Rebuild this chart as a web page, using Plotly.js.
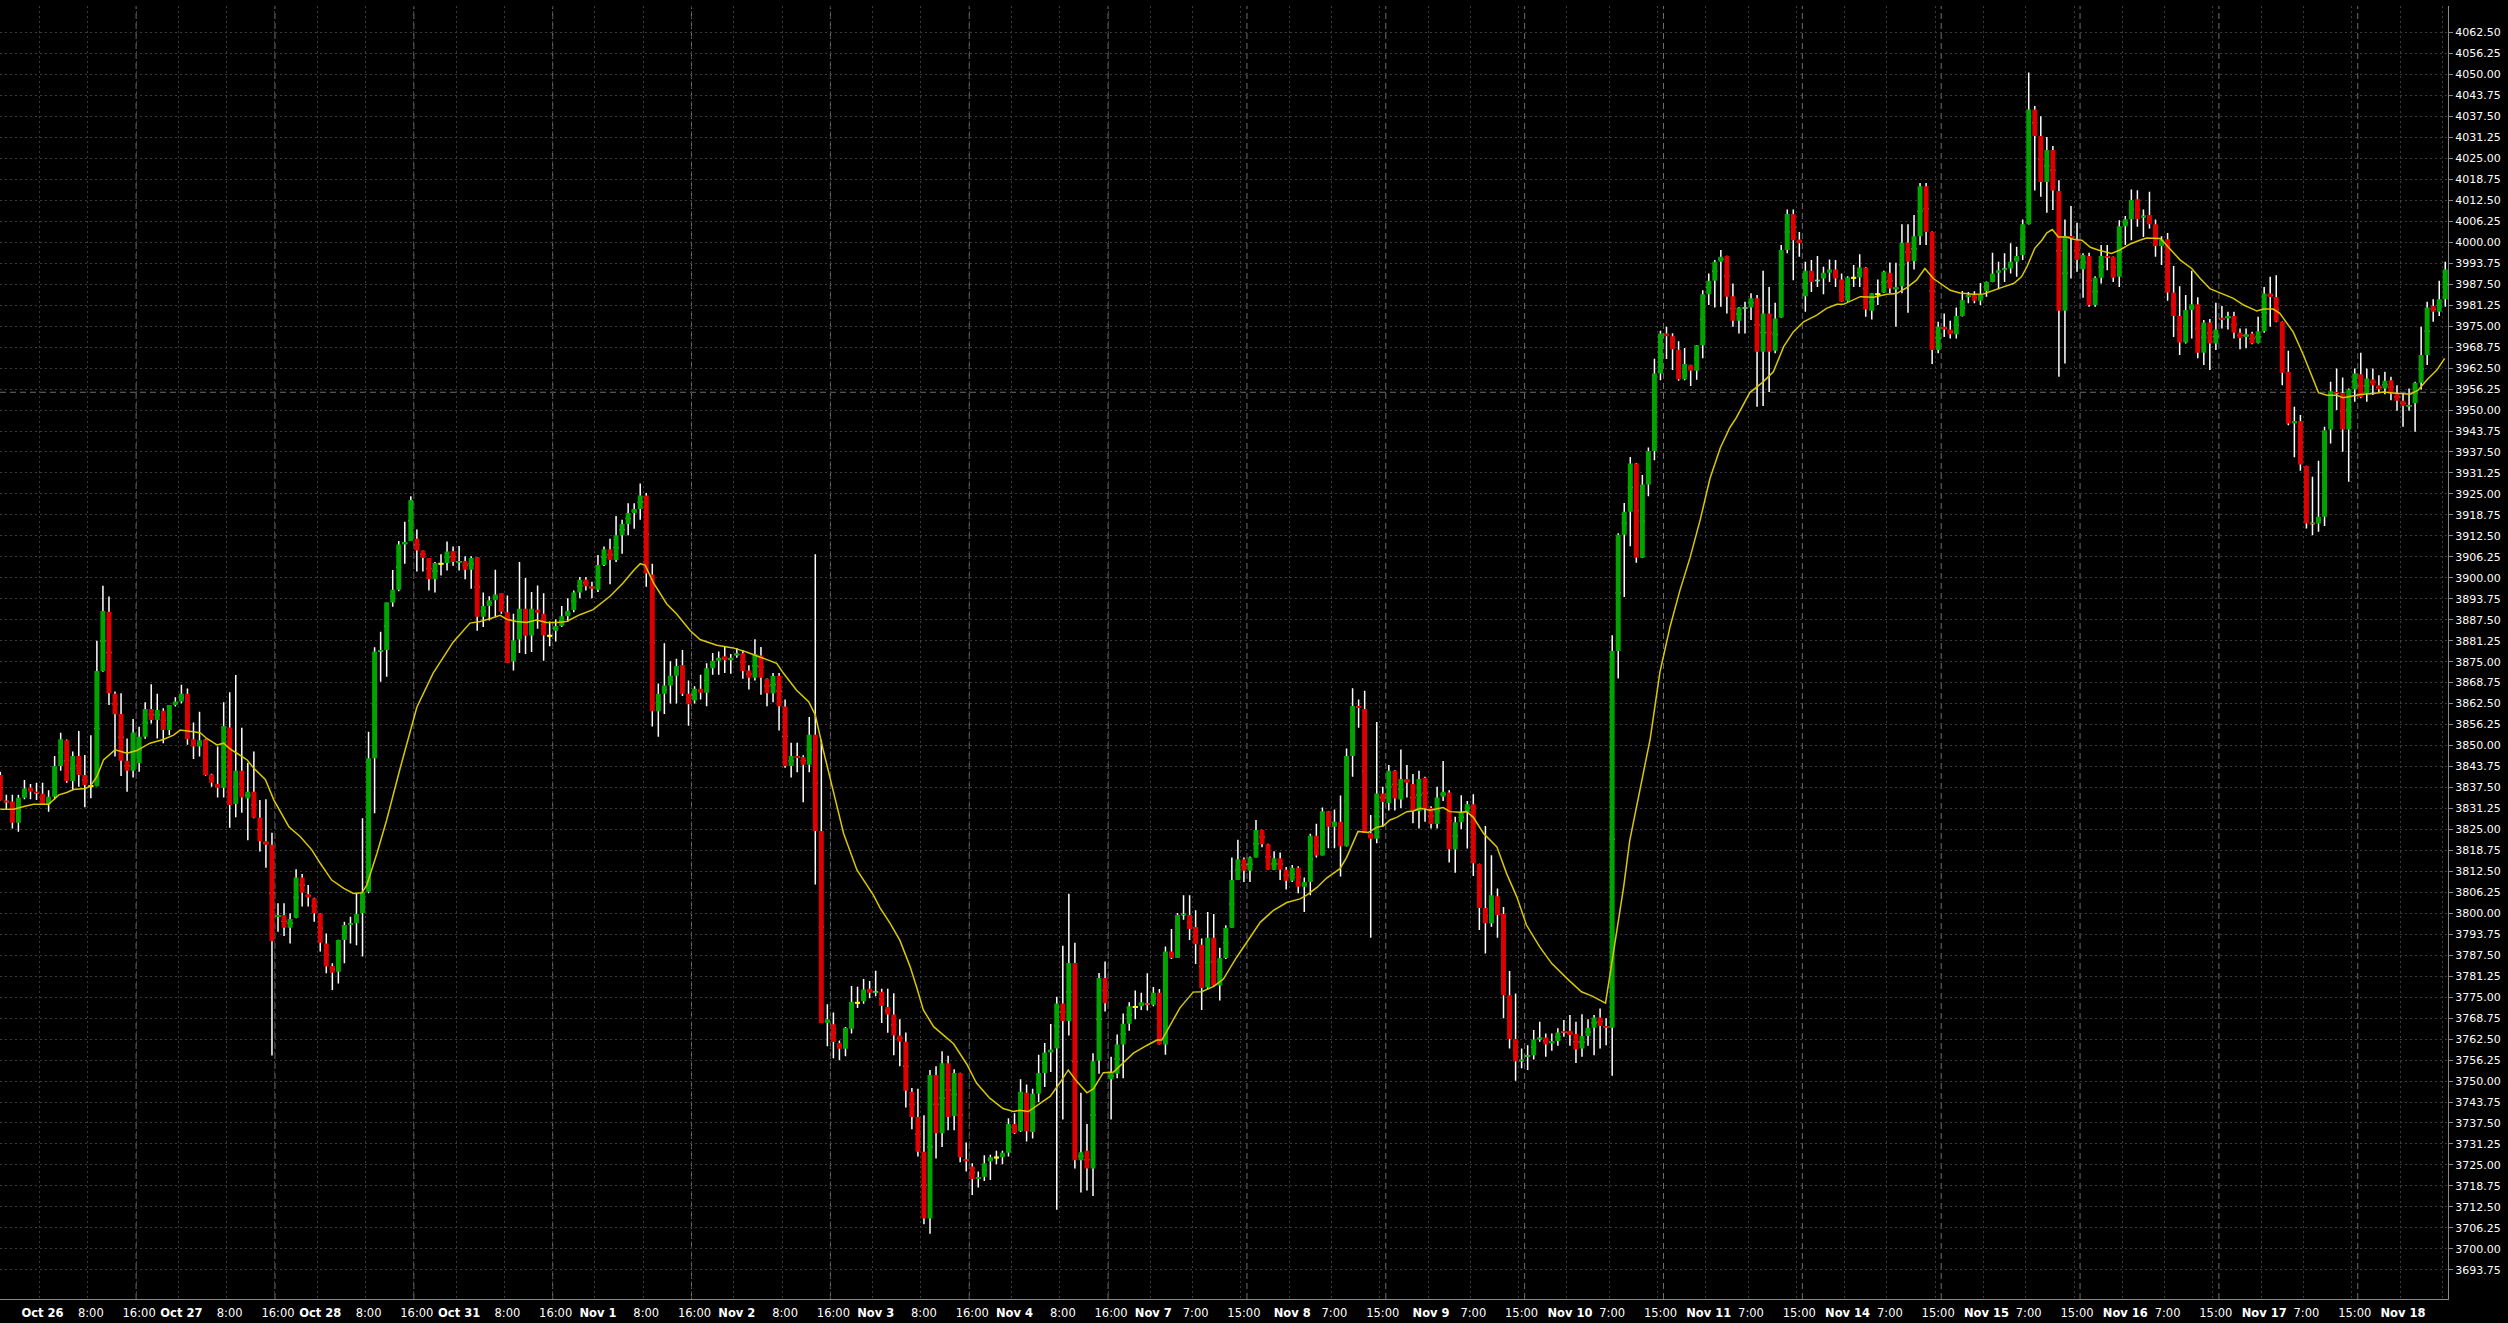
<!DOCTYPE html>
<html>
<head>
<meta charset="utf-8">
<script src="https://cdn.plot.ly/plotly-3.0.1.min.js"></script>
<style>
html,body{margin:0;padding:0;background:#000;}
#chart{width:2508px;height:1323px;}
</style>
</head>
<body>
<div id="chart"></div>
<script>
// Hourly candles, index 0 = first bar on the chart
const opens = [3841.2,3833.6,3833.3,3827.0,3834.4,3837.5,3836.2,3835.6,3832.5,3834.7,3843.9,3851.6,3839.4,3846.9,3841.2,3837.9,3837.9,3872.2,3889.9,3865.4,3859.4,3845.5,3842.5,3844.7,3852.6,3860.9,3857.6,3860.4,3854.6,3862.1,3863.1,3865.4,3851.9,3849.7,3851.8,3841.4,3838.5,3837.4,3855.4,3832.6,3842.5,3834.2,3836.2,3828.5,3821.5,3820.4,3798.9,3799.5,3795.7,3798.7,3810.7,3805.7,3804.5,3800.0,3791.0,3784.3,3782.6,3792.0,3796.5,3797.0,3800.1,3806.4,3846.2,3878.0,3878.5,3892.6,3896.4,3909.9,3911.0,3911.6,3908.1,3905.9,3899.6,3904.2,3904.4,3908.0,3904.5,3905.0,3902.4,3906.1,3888.4,3891.6,3893.3,3895.4,3889.7,3875.1,3881.6,3890.8,3882.8,3890.5,3889.3,3882.7,3884.2,3885.6,3888.5,3890.4,3895.6,3899.5,3897.5,3896.4,3903.8,3908.5,3905.3,3912.7,3916.0,3919.3,3920.5,3924.5,3901.0,3860.2,3865.4,3867.9,3870.8,3873.9,3865.4,3863.4,3866.9,3865.7,3873.0,3875.3,3876.6,3875.4,3876.8,3877.5,3872.4,3870.2,3876.8,3869.9,3865.6,3870.8,3861.6,3843.9,3846.9,3846.6,3844.3,3853.2,3824.5,3767.3,3766.9,3761.3,3759.6,3765.6,3773.3,3773.8,3777.5,3776.3,3776.6,3772.1,3769.8,3763.6,3761.7,3746.8,3739.3,3728.9,3709.0,3751.8,3734.4,3755.3,3739.6,3752.4,3726.7,3724.5,3720.8,3721.5,3726.0,3727.2,3727.3,3728.6,3737.2,3735.0,3746.5,3734.8,3746.2,3752.4,3758.5,3759.7,3773.1,3767.9,3785.2,3726.4,3729.2,3723.9,3756.1,3780.7,3750.5,3752.2,3760.9,3767.1,3772.1,3772.3,3773.2,3772.7,3776.3,3760.9,3788.6,3786.7,3799.5,3799.5,3795.9,3790.6,3777.9,3792.7,3778.5,3786.7,3795.7,3809.9,3816.1,3812.7,3816.6,3824.8,3820.6,3813.0,3816.4,3813.0,3809.7,3813.6,3807.9,3809.3,3823.1,3817.2,3830.4,3825.8,3827.3,3820.0,3846.9,3861.8,3860.9,3823.9,3822.2,3835.7,3832.9,3842.5,3833.9,3840.0,3838.5,3830.5,3840.4,3831.4,3826.6,3834.7,3836.0,3819.0,3827.1,3830.1,3832.5,3814.7,3801.6,3797.0,3805.1,3799.8,3775.6,3762.5,3755.9,3757.2,3757.7,3762.4,3763.0,3761.2,3761.9,3764.9,3765.0,3764.0,3759.7,3763.4,3765.9,3768.9,3766.4,3765.9,3878.2,3912.8,3919.7,3934.1,3906.0,3927.8,3937.8,3960.9,3972.8,3972.0,3968.0,3959.2,3963.4,3961.7,3969.3,3984.5,3988.5,3994.2,3995.9,3983.9,3976.6,3980.3,3980.6,3983.3,3967.4,3978.8,3967.7,3977.6,3997.7,4008.4,4000.8,3983.9,3991.5,3988.5,3989.2,3990.9,3991.9,3988.9,3982.6,3989.4,3989.5,3992.5,3979.6,3984.5,3985.0,3990.9,3985.9,3986.9,3999.9,3994.4,4001.8,4016.7,4003.1,3967.9,3974.8,3974.0,3972.6,3978.0,3983.6,3984.3,3982.6,3985.5,3988.2,3990.9,3991.7,3992.2,3994.2,3996.2,4005.4,4039.6,4031.7,4018.0,4027.5,4015.3,3979.6,4001.9,4000.6,3992.0,3995.9,3981.3,3989.4,3995.9,3995.7,3989.7,4004.8,4006.9,4012.8,4007.4,4008.1,4005.4,3998.9,4000.9,3985.0,3978.0,3970.1,3979.8,3981.5,3967.1,3976.1,3969.8,3977.5,3977.3,3978.0,3973.0,3971.8,3972.8,3970.0,3973.5,3984.7,3983.7,3976.3,3961.4,3946.0,3946.7,3933.3,3916.0,3916.2,3918.2,3944.2,3955.4,3955.1,3944.2,3956.1,3960.7,3955.0,3959.1,3957.4,3956.4,3958.9,3954.9,3952.8,3951.0,3952.0,3958.1,3966.4,3981.0,3979.3,3983.0];
const highs = [3842.2,3835.3,3835.3,3835.3,3839.7,3838.5,3838.9,3838.9,3836.7,3846.9,3853.8,3851.8,3848.2,3854.3,3847.2,3853.1,3881.2,3897.6,3894.4,3866.1,3865.6,3852.1,3857.9,3855.6,3862.9,3868.3,3865.4,3861.1,3862.1,3864.4,3868.1,3867.0,3856.9,3860.1,3852.0,3841.6,3849.7,3862.9,3865.9,3871.0,3855.3,3844.9,3848.2,3833.8,3834.0,3824.0,3803.0,3803.0,3800.0,3813.1,3811.7,3808.4,3804.6,3800.1,3794.0,3785.1,3792.1,3797.5,3799.0,3806.0,3828.3,3854.1,3879.3,3883.9,3892.6,3902.3,3911.0,3916.7,3924.3,3914.4,3908.1,3905.9,3904.7,3907.0,3910.8,3909.3,3909.5,3906.4,3906.4,3906.1,3895.6,3894.5,3902.4,3895.4,3894.7,3889.3,3904.7,3899.9,3895.8,3897.7,3895.4,3887.0,3887.6,3891.6,3893.9,3896.2,3900.2,3900.2,3898.8,3906.8,3909.3,3911.6,3918.4,3917.3,3922.2,3922.2,3928.1,3925.3,3904.2,3868.5,3880.5,3875.1,3875.9,3878.5,3869.4,3867.7,3871.1,3874.5,3877.6,3878.0,3879.4,3877.3,3879.1,3878.5,3873.9,3881.7,3879.4,3870.0,3871.6,3871.6,3863.7,3850.8,3850.8,3847.1,3858.5,3907.0,3851.7,3772.9,3770.4,3762.1,3766.1,3778.3,3778.1,3780.4,3779.8,3782.9,3777.5,3777.5,3776.2,3768.4,3764.5,3747.9,3747.7,3739.8,3753.3,3754.4,3758.9,3757.5,3753.5,3752.5,3731.7,3725.5,3723.0,3727.9,3728.0,3729.2,3729.2,3738.9,3740.4,3750.5,3749.0,3747.7,3757.8,3761.3,3767.0,3775.1,3790.3,3805.8,3791.2,3746.5,3737.2,3758.3,3782.2,3785.6,3757.2,3763.9,3770.1,3773.5,3777.0,3776.3,3782.1,3778.0,3777.4,3790.1,3795.3,3800.1,3805.4,3805.4,3800.9,3792.5,3800.4,3799.8,3789.7,3796.4,3816.6,3821.9,3816.6,3816.9,3827.8,3824.9,3820.7,3818.5,3818.1,3813.8,3814.4,3814.0,3810.7,3823.7,3826.7,3831.5,3830.5,3830.9,3835.1,3849.1,3867.1,3863.7,3866.3,3829.3,3857.0,3837.7,3844.2,3842.6,3848.8,3844.2,3841.5,3842.5,3840.7,3831.9,3837.7,3845.4,3836.7,3828.8,3835.2,3833.5,3835.5,3814.8,3826.0,3817.3,3807.4,3801.9,3782.8,3776.1,3759.7,3760.7,3765.2,3767.7,3764.2,3764.2,3765.7,3768.2,3769.7,3767.7,3769.9,3768.4,3769.7,3771.6,3768.7,3882.9,3913.3,3922.3,3936.0,3934.2,3930.6,3938.8,3965.3,3973.6,3974.8,3972.9,3970.5,3968.5,3963.5,3969.4,3985.7,3990.7,3994.7,3997.7,3996.0,3987.7,3980.7,3982.3,3984.8,3984.3,3991.5,3986.7,3982.0,3999.2,4009.8,4009.8,4003.1,3994.2,3994.7,3995.9,3992.7,3994.9,3994.7,3990.7,3989.9,3993.2,3996.4,3992.6,3984.9,3988.9,3991.5,3994.0,3993.9,4005.4,4005.4,4008.1,4017.7,4017.7,4003.2,3976.3,3978.8,3976.6,3980.6,3985.5,3985.2,3985.4,3987.9,3988.3,3996.9,3994.2,3996.7,3999.7,3998.7,4006.8,4050.6,4040.6,4037.6,4031.4,4028.7,4018.5,4006.8,4010.8,4005.8,3996.7,3996.9,3989.9,3999.2,3999.2,3995.8,4006.6,4007.8,4015.7,4015.5,4009.8,4015.1,4006.8,4001.8,4002.8,3992.9,3986.9,3984.3,3991.5,3983.6,3976.8,3977.1,3982.0,3981.0,3979.3,3979.3,3974.3,3974.3,3973.3,3977.8,3986.7,3989.7,3990.2,3976.4,3967.7,3951.0,3948.5,3933.4,3930.1,3934.9,3945.0,3958.4,3962.4,3959.7,3956.4,3962.4,3967.1,3962.4,3962.4,3960.4,3961.4,3959.9,3957.4,3954.9,3956.4,3958.4,3974.8,3982.3,3983.0,3988.5,3994.2];
const lows = [3833.6,3830.8,3825.3,3824.3,3834.0,3834.0,3833.8,3832.3,3830.3,3834.0,3842.5,3838.9,3836.7,3837.7,3831.6,3834.3,3837.9,3872.0,3862.1,3846.7,3840.9,3836.2,3840.5,3842.2,3852.0,3856.6,3852.1,3850.7,3853.1,3861.6,3862.6,3850.2,3846.0,3846.7,3841.0,3837.7,3834.5,3834.5,3825.5,3828.6,3830.0,3821.8,3828.3,3818.4,3813.6,3757.6,3794.5,3793.2,3791.0,3798.5,3802.0,3802.0,3797.5,3788.6,3782.1,3777.1,3779.1,3785.1,3791.0,3790.5,3787.1,3806.0,3829.8,3869.0,3870.5,3891.4,3896.0,3904.2,3911.0,3901.9,3901.9,3896.2,3895.6,3900.7,3902.2,3903.6,3902.2,3899.6,3896.7,3884.2,3885.3,3887.3,3888.2,3889.3,3874.7,3872.4,3877.6,3877.3,3877.9,3884.8,3875.3,3879.6,3881.0,3885.3,3887.0,3889.7,3893.9,3896.2,3893.9,3895.8,3903.5,3898.1,3904.7,3907.2,3912.7,3914.6,3917.3,3897.3,3855.7,3852.6,3859.4,3862.5,3862.5,3864.8,3855.9,3862.5,3863.7,3861.7,3871.1,3871.1,3871.6,3871.4,3876.2,3869.9,3866.7,3869.4,3865.1,3861.7,3862.9,3854.5,3843.4,3840.5,3842.0,3833.1,3842.0,3808.6,3767.3,3760.4,3756.8,3756.2,3757.4,3764.2,3771.8,3773.0,3774.7,3775.3,3767.3,3764.4,3757.7,3754.4,3742.1,3735.6,3727.5,3707.3,3704.5,3726.9,3730.3,3735.3,3735.3,3725.8,3723.0,3716.0,3718.3,3720.2,3720.5,3725.2,3725.2,3727.5,3734.2,3734.8,3732.0,3732.9,3743.7,3748.2,3752.7,3711.6,3738.5,3763.6,3723.9,3716.8,3717.4,3715.7,3752.2,3770.7,3738.5,3750.8,3750.8,3765.0,3768.4,3771.2,3771.0,3772.3,3760.9,3757.8,3786.4,3786.7,3798.1,3792.0,3784.9,3771.2,3777.4,3778.2,3774.0,3786.4,3795.7,3809.9,3809.3,3809.3,3816.6,3819.7,3813.0,3812.9,3809.9,3807.1,3809.3,3806.0,3800.4,3805.4,3816.6,3817.2,3819.4,3819.4,3811.0,3819.9,3840.7,3855.3,3823.9,3792.7,3820.9,3825.8,3830.6,3830.6,3831.4,3834.5,3826.8,3825.3,3827.3,3825.3,3825.3,3833.5,3815.1,3812.1,3825.1,3819.3,3811.1,3795.0,3788.0,3796.0,3792.7,3768.7,3759.7,3750.1,3753.8,3753.3,3756.4,3761.7,3757.2,3759.0,3760.5,3763.2,3760.5,3755.4,3757.2,3760.5,3757.7,3759.7,3760.7,3751.6,3870.0,3894.3,3909.4,3904.5,3905.9,3924.3,3935.0,3958.9,3965.2,3961.9,3958.7,3958.9,3957.2,3959.0,3965.4,3981.3,3980.6,3980.8,3978.8,3974.8,3972.8,3972.8,3976.8,3951.0,3951.2,3955.4,3966.9,3977.5,3996.7,3988.7,3995.7,3979.3,3985.2,3986.7,3984.5,3988.2,3986.7,3982.2,3982.3,3986.7,3986.7,3977.8,3977.0,3981.3,3984.9,3984.8,3974.8,3984.8,3979.0,3991.9,3999.2,3999.2,3963.7,3966.9,3971.8,3971.3,3971.3,3977.9,3981.8,3981.8,3981.3,3983.8,3988.1,3986.0,3988.2,3990.7,3989.7,3994.7,4005.3,4015.4,4013.6,4008.8,4009.6,3959.9,3963.9,3989.2,3991.2,3983.5,3980.8,3980.8,3987.7,3991.7,3988.2,3986.7,3999.2,4000.6,4004.6,4001.6,4004.1,3995.7,3993.2,3982.6,3971.8,3966.4,3969.8,3971.3,3965.4,3963.4,3961.9,3967.9,3974.3,3974.0,3971.3,3968.1,3968.4,3969.6,3969.8,3973.0,3974.8,3976.2,3957.4,3945.5,3935.9,3931.9,3914.7,3912.7,3913.7,3915.4,3940.0,3950.0,3937.6,3928.6,3952.5,3953.5,3952.5,3954.5,3955.4,3954.7,3952.9,3949.8,3945.0,3949.8,3943.5,3956.1,3963.4,3976.3,3978.0,3980.8];
const closes = [3833.6,3833.0,3827.0,3834.4,3837.2,3836.2,3835.7,3832.6,3834.7,3843.9,3851.9,3839.4,3846.9,3841.2,3838.2,3837.9,3872.2,3890.1,3865.6,3859.3,3845.5,3842.5,3853.9,3852.6,3860.9,3857.6,3860.6,3854.6,3862.1,3863.1,3865.4,3851.9,3849.7,3851.6,3841.2,3838.9,3837.4,3855.8,3832.3,3842.5,3834.5,3836.2,3828.5,3821.5,3820.4,3791.7,3799.5,3795.7,3798.3,3810.7,3806.1,3804.7,3800.0,3791.2,3784.1,3782.3,3792.0,3796.5,3797.0,3799.8,3806.4,3846.2,3878.0,3878.5,3892.6,3896.4,3909.9,3910.7,3923.2,3908.1,3905.9,3899.6,3904.4,3904.2,3907.8,3904.7,3905.0,3902.4,3905.9,3888.4,3891.6,3893.3,3895.0,3889.9,3874.7,3881.3,3890.8,3882.7,3890.8,3889.6,3882.8,3882.7,3885.6,3888.5,3890.2,3895.6,3899.4,3897.5,3896.7,3903.8,3908.5,3905.3,3912.7,3916.0,3919.3,3920.5,3924.5,3901.3,3860.2,3865.4,3867.9,3870.8,3873.7,3865.4,3862.3,3866.9,3865.7,3873.0,3875.3,3876.2,3875.4,3876.2,3877.5,3872.2,3870.2,3877.3,3870.2,3865.6,3870.7,3861.7,3843.9,3846.9,3846.3,3844.3,3853.2,3824.5,3767.3,3768.4,3761.6,3759.6,3765.8,3773.6,3773.3,3777.3,3776.3,3776.7,3772.4,3769.8,3763.6,3761.7,3747.1,3739.3,3728.9,3709.0,3751.8,3734.4,3755.3,3739.3,3752.4,3727.3,3726.0,3720.8,3721.4,3725.5,3727.3,3727.2,3728.6,3737.2,3734.5,3746.8,3735.0,3746.2,3752.4,3758.5,3759.4,3773.1,3767.9,3785.2,3726.4,3728.8,3723.9,3755.9,3780.7,3773.2,3752.4,3760.9,3767.1,3772.3,3772.1,3773.5,3772.7,3776.3,3760.9,3788.6,3786.7,3799.5,3799.8,3795.3,3790.8,3777.7,3792.7,3778.5,3786.7,3795.7,3809.9,3816.1,3812.7,3816.6,3824.8,3820.6,3813.0,3816.4,3813.0,3809.7,3813.6,3807.9,3809.3,3823.1,3817.2,3830.4,3825.8,3827.3,3820.0,3846.9,3861.8,3861.2,3823.9,3822.2,3835.7,3833.2,3842.5,3834.2,3840.0,3838.9,3830.5,3840.0,3831.2,3826.6,3834.5,3836.2,3819.1,3827.1,3830.1,3832.5,3814.9,3801.6,3797.0,3805.4,3799.5,3775.6,3762.5,3755.9,3756.4,3757.7,3762.4,3763.0,3760.9,3761.9,3764.5,3764.4,3763.7,3759.4,3763.4,3765.9,3768.9,3766.4,3765.9,3878.2,3912.8,3919.7,3934.1,3906.0,3927.8,3937.8,3960.9,3972.8,3972.0,3968.1,3959.2,3963.7,3961.7,3969.3,3984.5,3988.5,3994.2,3995.7,3983.8,3976.6,3980.6,3980.6,3983.3,3967.4,3978.8,3967.4,3977.3,3997.7,4008.4,4000.6,3999.7,3991.5,3988.2,3988.7,3990.9,3991.9,3989.2,3982.3,3989.5,3989.4,3992.5,3980.0,3984.8,3984.5,3991.2,3986.2,3986.7,3999.9,3994.2,4001.8,4016.7,4003.1,3967.9,3974.8,3974.0,3972.6,3978.0,3982.8,3984.3,3982.6,3984.5,3988.2,3990.7,3991.7,3992.2,3994.2,3995.9,4005.4,4039.6,4031.7,4018.0,4027.5,4015.4,3979.6,4001.9,4001.1,3994.7,3996.2,3981.3,3989.4,3995.9,3995.4,3989.4,4004.8,4006.9,4012.6,4006.9,4007.9,4005.4,3998.9,4000.8,3985.0,3978.0,3970.1,3979.8,3981.5,3967.1,3976.1,3969.8,3974.0,3976.8,3978.0,3973.0,3971.5,3972.6,3969.8,3973.5,3984.7,3983.7,3976.3,3961.1,3946.0,3946.7,3933.8,3916.2,3916.4,3918.2,3944.0,3955.6,3954.9,3944.2,3956.1,3960.9,3953.8,3959.4,3957.4,3956.2,3958.7,3954.9,3952.8,3951.2,3951.5,3958.1,3966.4,3980.6,3979.3,3983.0,3991.9];

// Moving average line: bar position and value
const maIdx = [0,2.2,3.9,5.5,8.0,9.7,11.0,12.1,14.1,14.9,16.0,17.1,19.0,21.0,22.6,24.8,27.0,28.7,29.8,31.5,33.1,34.2,35.9,37.0,38.1,39.2,40.9,42.0,43.9,45.3,47.8,49.7,51.6,53.0,54.9,56.9,58.5,59.9,60.7,62.4,64.0,66.2,67.3,69.0,71.7,75.0,77.8,79.5,81.1,82.8,83.9,85.5,87.2,88.8,90.5,92.2,93.8,96.0,98.2,101.0,103.2,104.9,106.0,106.8,108.2,110.4,112.0,114.3,115.9,118.7,121.4,123.6,125.8,126.9,128.6,129.7,131.9,133.9,135.0,136.3,138.0,139.7,141.9,144.6,145.7,147.4,149.0,150.7,151.8,152.9,154.6,156.2,157.9,160.1,161.7,163.9,166.1,167.8,168.9,170.3,172.2,173.9,175.5,176.9,178.3,180.0,181.1,182.7,184.4,186.0,187.7,189.9,191.6,192.4,193.8,195.4,197.6,199.0,201.0,202.6,204.8,206.5,208.7,210.9,213.1,215.3,216.4,218.1,219.7,221.9,223.0,224.9,226.6,228.0,229.1,230.2,231.3,233.0,234.1,235.2,236.8,239.0,240.1,241.8,242.9,244.0,245.7,247.9,249.5,251.2,252.8,255.0,257.0,259.5,261.9,263.6,265.9,267.2,268.9,269.9,271.6,273.3,274.9,276.6,278.2,279.9,281.6,283.2,284.9,286.5,287.5,289.8,292.0,293.7,295.4,297.0,298.7,300.9,302.5,304.2,305.3,307.0,308.1,310.3,312.5,314.1,315.8,317.4,318.8,320.2,321.9,323.0,324.6,326.8,328.5,330.1,331.8,333.5,334.8,335.7,337.0,338.2,339.0,339.9,340.9,342.3,343.4,344.8,346.2,347.5,349.7,351.1,352.8,354.4,355.5,357.8,359.1,361.1,363.0,364.4,366.0,368.0,369.9,371.6,373.8,374.9,376.5,377.6,379.8,381.5,382.9,384.0,385.4,387.0,388.1,389.5,390.9,393.1,394.8,396.4,398.1,399.2,400.5,401.9,403.6,404.9];
const maVal = [3831.0,3831.0,3831.8,3832.5,3832.5,3835.3,3836.0,3836.9,3837.2,3837.9,3840.7,3845.7,3848.7,3847.7,3848.5,3850.7,3851.8,3853.1,3854.6,3854.1,3853.8,3852.1,3850.2,3850.7,3848.9,3847.7,3845.7,3843.2,3839.9,3833.8,3825.8,3822.8,3818.9,3814.9,3809.9,3807.4,3805.9,3806.1,3808.4,3817.9,3827.8,3843.0,3850.0,3861.4,3871.6,3880.8,3886.5,3887.0,3887.8,3888.8,3887.6,3887.0,3886.7,3887.4,3886.7,3886.7,3887.0,3889.0,3890.5,3894.5,3898.5,3902.2,3904.2,3903.8,3898.5,3892.2,3889.3,3884.2,3881.6,3879.9,3879.1,3877.9,3876.4,3875.6,3874.5,3871.6,3866.5,3863.1,3859.1,3848.8,3836.3,3823.7,3812.9,3805.5,3801.7,3797.0,3792.0,3784.1,3777.9,3771.2,3766.2,3763.6,3761.1,3755.0,3749.4,3744.9,3741.8,3740.9,3741.3,3740.9,3743.2,3745.4,3749.4,3753.3,3749.9,3746.5,3747.7,3752.5,3752.7,3755.5,3758.3,3760.6,3762.2,3762.2,3766.7,3771.8,3776.5,3776.6,3778.2,3780.4,3786.9,3791.4,3797.3,3800.9,3803.2,3804.3,3805.4,3807.7,3810.5,3813.3,3816.6,3824.4,3824.1,3825.6,3826.1,3827.8,3828.6,3830.3,3830.5,3831.3,3830.7,3831.5,3830.3,3830.1,3830.3,3828.6,3823.8,3819.8,3811.9,3804.9,3796.5,3790.0,3785.0,3780.6,3776.6,3775.4,3773.2,3788.2,3807.9,3821.6,3836.8,3852.0,3871.8,3885.5,3896.1,3906.0,3917.4,3929.6,3938.7,3944.8,3947.5,3955.2,3958.4,3961.4,3968.9,3973.3,3976.3,3978.3,3980.3,3981.5,3981.5,3982.8,3983.8,3983.6,3984.5,3984.7,3986.5,3988.7,3992.2,3989.2,3987.2,3985.7,3984.9,3984.5,3984.6,3985.7,3986.7,3987.7,3989.7,3992.7,3998.2,4000.7,4002.8,4003.8,4001.6,4001.6,4000.9,4000.6,3998.5,3997.7,3996.7,3997.7,3999.5,4000.6,4001.3,4001.1,3998.7,3994.7,3992.2,3989.2,3986.2,3984.7,3983.3,3981.3,3979.5,3980.1,3980.1,3978.8,3973.3,3966.4,3959.9,3955.2,3954.4,3954.4,3953.7,3954.2,3954.6,3954.9,3955.4,3955.1,3954.9,3954.7,3955.9,3958.9,3961.9,3965.4];

// Time axis labels (one trading session = 23 hourly bars)
const sessionDates = ['Oct 26','Oct 27','Oct 28','Oct 31','Nov 1','Nov 2','Nov 3','Nov 4','Nov 7','Nov 8','Nov 9','Nov 10','Nov 11','Nov 14','Nov 15','Nov 16','Nov 17','Nov 18'];
const hourLabelsEarly = ['8:00','16:00'];
const hourLabelsLate = ['7:00','15:00'];
// Price axis labels
const priceTickFirst = 3693.75, priceTickLast = 4062.50, priceTickStep = 6.25;
const lineLevel = 3955.3;

// ---- build ----
const N = opens.length;
const idx = Array.from({length: N}, (_, i) => i);
const mid = opens.map((o, i) => (o + closes[i]) / 2);

const upX=[],upO=[],upC=[],dnX=[],dnO=[],dnC=[],djX=[],djV=[];
for (let i = 0; i < N; i++) {
  if (closes[i] > opens[i]) { upX.push(i); upO.push(opens[i]); upC.push(closes[i]); }
  else if (closes[i] < opens[i]) { dnX.push(i); dnO.push(opens[i]); dnC.push(closes[i]); }
  else { djX.push(i); djV.push(opens[i]); }
}

const WHITE = '#ffffff', GREEN = '#00a400', RED = '#dc0000';
const noHover = {hoverinfo: 'skip'};

const wick = Object.assign({
  type: 'candlestick', x: idx, open: mid, close: mid, high: highs, low: lows,
  whiskerwidth: 0,
  increasing: {line: {color: WHITE, width: 1.5}, fillcolor: WHITE},
  decreasing: {line: {color: WHITE, width: 1.5}, fillcolor: WHITE}
}, noHover);
const up = Object.assign({
  type: 'candlestick', x: upX, open: upO, close: upC, high: upC, low: upO,
  whiskerwidth: 0,
  increasing: {line: {color: GREEN, width: 0}, fillcolor: GREEN},
  decreasing: {line: {color: GREEN, width: 0}, fillcolor: GREEN}
}, noHover);
const dn = Object.assign({
  type: 'candlestick', x: dnX, open: dnO, close: dnC, high: dnO, low: dnC,
  whiskerwidth: 0,
  increasing: {line: {color: RED, width: 0}, fillcolor: RED},
  decreasing: {line: {color: RED, width: 0}, fillcolor: RED}
}, noHover);
const dj = Object.assign({
  type: 'candlestick', x: djX, open: djV, close: djV, high: djV, low: djV,
  whiskerwidth: 0,
  increasing: {line: {color: '#ffff00', width: 2}, fillcolor: '#ffff00'},
  decreasing: {line: {color: '#ffff00', width: 2}, fillcolor: '#ffff00'}
}, noHover);
const ma = {
  type: 'scatter', mode: 'lines', x: maIdx, y: maVal,
  line: {color: '#d8c800', width: 1.5}, hoverinfo: 'skip'
};

// x ticks
const tickvals = [], ticktext = [], separators = [];
const xMax = 405.45;
sessionDates.forEach((d, k) => {
  const base = 6.5 + 23 * k;
  const late = k >= 8;
  const h = late ? hourLabelsLate : hourLabelsEarly;
  const offs = late ? [7, 15] : [8, 16];
  tickvals.push(base); ticktext.push('<b>' + d + '</b>');
  offs.forEach((o, j) => {
    const p = base + o;
    if (p <= xMax) { tickvals.push(p); ticktext.push(p + 3 <= xMax ? h[j] : ''); }
  });
  const sep = 22.5 + 23 * k;
  if (sep < xMax - 14) separators.push(sep);
});

// y ticks
const yTickVals = [];
for (let v = priceTickFirst; v <= priceTickLast + 1e-9; v += priceTickStep) yTickVals.push(v);

const shapes = separators.map(s => ({
  type: 'line', xref: 'x', yref: 'paper', x0: s, x1: s, y0: 0, y1: 1,
  line: {color: '#6e6e6e', width: 1, dash: '6px,4px'}, layer: 'below'
}));
shapes.push({
  type: 'line', xref: 'paper', yref: 'y', x0: 0, x1: 1, y0: lineLevel, y1: lineLevel,
  line: {color: '#6e6e6e', width: 1, dash: '6px,4px'}, layer: 'below'
});

const layout = {
  width: 2508, height: 1323,
  paper_bgcolor: '#000000', plot_bgcolor: '#000000',
  margin: {l: 0, r: 60, t: 6, b: 24, pad: 0},
  showlegend: false, hovermode: false,
  boxgap: 0.18, boxgroupgap: 0, boxmode: 'overlay',
  font: {family: 'DejaVu Sans', color: '#ffffff', size: 11},
  xaxis: {
    type: 'linear', range: [-0.05, xMax], fixedrange: true,
    rangeslider: {visible: false},
    tickmode: 'array', tickvals: tickvals, ticktext: ticktext,
    showgrid: true, gridcolor: '#3a3a3a', griddash: '2px,3px', gridwidth: 1,
    zeroline: false, showline: true, linecolor: '#8a8a8a', linewidth: 1,
    ticks: '', tickfont: {family: 'DejaVu Sans', size: 11.5, color: '#ffffff'},
    ticklabelshift: 3, ticklabelstandoff: 3
  },
  yaxis: {
    side: 'right', range: [3685.03, 4070.43], fixedrange: true,
    tickmode: 'array', tickvals: yTickVals, tickformat: '.2f',
    showgrid: true, gridcolor: '#3a3a3a', griddash: '2px,3px', gridwidth: 1,
    zeroline: false, showline: true, linecolor: '#8a8a8a', linewidth: 1,
    ticks: 'outside', ticklen: 4, tickcolor: '#8a8a8a',
    tickfont: {family: 'DejaVu Sans', size: 11, color: '#ffffff'}
  },
  shapes: shapes
};

Plotly.newPlot('chart', [wick, up, dn, dj, ma], layout, {displayModeBar: false, staticPlot: true});
</script>
</body>
</html>
